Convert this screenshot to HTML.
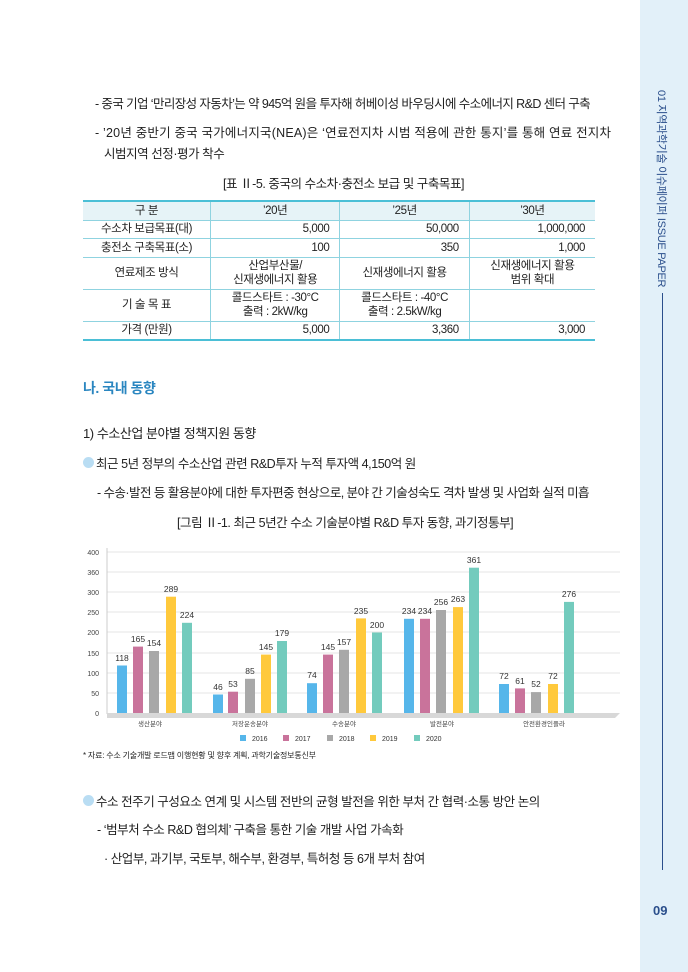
<!DOCTYPE html>
<html><head><meta charset="utf-8"><style>
body{margin:0;width:688px;height:972px;background:#fff;position:relative;overflow:hidden;font-family:"Liberation Sans","Noto Sans CJK KR",sans-serif;color:#222}
.t{position:absolute;white-space:nowrap;font-size:12.5px;letter-spacing:-0.45px}
.side{position:absolute;left:640px;top:0;width:48px;height:972px;background:#e2f0f9}
table{position:absolute;left:83px;top:200px;width:512px;border-collapse:collapse;font-size:11.5px;letter-spacing:-0.4px}
td{border:1px solid #8fd3e0;border-top:1px solid #8fd3e0;padding:0 10px;line-height:14.5px;text-align:center;height:17.5px}
tr:first-child td{background:#e6f3f7;border-top:2px solid #4bbfd6}
tr:last-child td{border-bottom:2px solid #4bbfd6}
td:first-child{border-left:none}td:last-child{border-right:none}
td.r{text-align:right}
</style></head><body>
<div class="side"></div>
<div style="position:absolute;left:662px;top:90px;transform-origin:0 0;transform:translate(8px,0) rotate(90deg);font-size:11px;color:#2b4f8c;white-space:nowrap;letter-spacing:-0.3px">01 지역과학기술 이슈페이퍼 ISSUE PAPER</div>
<div style="position:absolute;left:662px;top:293px;width:1px;height:577px;background:#2b4f8c"></div>
<div style="position:absolute;left:653px;top:903px;font-size:13px;font-weight:bold;color:#2b4f8c">09</div>

<div class="t" style="left:95px;top:93px;letter-spacing:-0.6px">- 중국 기업 ‘만리장성 자동차’는 약 945억 원을 투자해 허베이성 바우딩시에 수소에너지 R&amp;D 센터 구축</div>
<div class="t" style="left:95px;top:122px;letter-spacing:0.2px">- ’20년 중반기 중국 국가에너지국(NEA)은 ‘연료전지차 시범 적용에 관한 통지’를 통해 연료 전지차</div>
<div class="t" style="left:104px;top:143px">시범지역 선정·평가 착수</div>
<div class="t" style="left:223px;top:173px">[표 Ⅱ-5. 중국의 수소차·충전소 보급 및 구축목표]</div>

<table>
<tr><td style="width:107px">구 분</td><td>’20년</td><td>’25년</td><td>’30년</td></tr>
<tr><td>수소차 보급목표(대)</td><td class="r">5,000</td><td class="r">50,000</td><td class="r">1,000,000</td></tr>
<tr><td>충전소 구축목표(소)</td><td class="r">100</td><td class="r">350</td><td class="r">1,000</td></tr>
<tr><td style="height:31px">연료제조 방식</td><td>산업부산물/<br>신재생에너지 활용</td><td>신재생에너지 활용</td><td>신재생에너지 활용<br>범위 확대</td></tr>
<tr><td style="height:31px">기 술 목 표</td><td>콜드스타트 : -30°C<br>출력 : 2kW/kg</td><td>콜드스타트 : -40°C<br>출력 : 2.5kW/kg</td><td></td></tr>
<tr><td>가격 (만원)</td><td class="r">5,000</td><td class="r">3,360</td><td class="r">3,000</td></tr>
</table>

<div class="t" style="left:83px;top:378px;font-size:14px;font-weight:bold;color:#2a86c0">나. 국내 동향</div>
<div class="t" style="left:83px;top:423px;font-size:13px">1) 수소산업 분야별 정책지원 동향</div>
<div style="position:absolute;left:83px;top:457px;width:11px;height:11px;border-radius:50%;background:#b9ddf3"></div>
<div class="t" style="left:96px;top:453px">최근 5년 정부의 수소산업 관련 R&amp;D투자 누적 투자액 4,150억 원</div>
<div class="t" style="left:97px;top:482px;letter-spacing:-0.55px">- 수송·발전 등 활용분야에 대한 투자편중 현상으로, 분야 간 기술성숙도 격차 발생 및 사업화 실적 미흡</div>
<div class="t" style="left:177px;top:512px">[그림 Ⅱ-1. 최근 5년간 수소 기술분야별 R&amp;D 투자 동향, 과기정통부]</div>

<svg style="position:absolute;left:0;top:0" width="688" height="972" font-family="Liberation Sans, sans-serif">
<g stroke="#e4e4e4" stroke-width="1">
<line x1="107" y1="552" x2="620" y2="552"/><line x1="107" y1="572" x2="620" y2="572"/><line x1="107" y1="592" x2="620" y2="592"/><line x1="107" y1="612" x2="620" y2="612"/><line x1="107" y1="632" x2="620" y2="632"/><line x1="107" y1="653" x2="620" y2="653"/><line x1="107" y1="673" x2="620" y2="673"/><line x1="107" y1="693" x2="620" y2="693"/>
</g>
<line x1="107" y1="548" x2="107" y2="714" stroke="#ccc"/>
<polygon points="107,713 620,713 615,718 107,718" fill="#d8d8d8"/>
<g font-size="7" fill="#444" text-anchor="end">
<text x="99" y="555">400</text><text x="99" y="575">360</text><text x="99" y="595">300</text><text x="99" y="615">250</text><text x="99" y="635">200</text><text x="99" y="656">150</text><text x="99" y="676">100</text><text x="99" y="696">50</text><text x="99" y="716">0</text>
</g>
<g>
<rect x="117" y="665.5" width="10" height="47.5" fill="#56b6ea"/><rect x="133" y="646.6" width="10" height="66.4" fill="#c9739b"/><rect x="149" y="651" width="10" height="62" fill="#a8a8a8"/><rect x="166" y="596.7" width="10" height="116.3" fill="#ffc93c"/><rect x="182" y="622.8" width="10" height="90.2" fill="#73cbbd"/>
<rect x="213" y="694.5" width="10" height="18.5" fill="#56b6ea"/><rect x="228" y="691.7" width="10" height="21.3" fill="#c9739b"/><rect x="245" y="678.8" width="10" height="34.2" fill="#a8a8a8"/><rect x="261" y="654.6" width="10" height="58.4" fill="#ffc93c"/><rect x="277" y="641" width="10" height="72" fill="#73cbbd"/>
<rect x="307" y="683.2" width="10" height="29.8" fill="#56b6ea"/><rect x="323" y="654.6" width="10" height="58.4" fill="#c9739b"/><rect x="339" y="649.8" width="10" height="63.2" fill="#a8a8a8"/><rect x="356" y="618.4" width="10" height="94.6" fill="#ffc93c"/><rect x="372" y="632.5" width="10" height="80.5" fill="#73cbbd"/>
<rect x="404" y="618.8" width="10" height="94.2" fill="#56b6ea"/><rect x="420" y="618.8" width="10" height="94.2" fill="#c9739b"/><rect x="436" y="610" width="10" height="103" fill="#a8a8a8"/><rect x="453" y="607.1" width="10" height="105.9" fill="#ffc93c"/><rect x="469" y="567.7" width="10" height="145.3" fill="#73cbbd"/>
<rect x="499" y="684" width="10" height="29" fill="#56b6ea"/><rect x="515" y="688.4" width="10" height="24.6" fill="#c9739b"/><rect x="531" y="692.1" width="10" height="20.9" fill="#a8a8a8"/><rect x="548" y="684" width="10" height="29" fill="#ffc93c"/><rect x="564" y="601.9" width="10" height="111.1" fill="#73cbbd"/>
</g>
<g font-size="8.5" fill="#333" text-anchor="middle">
<text x="122" y="661">118</text><text x="138" y="642">165</text><text x="154" y="646">154</text><text x="171" y="592">289</text><text x="187" y="618">224</text>
<text x="218" y="690">46</text><text x="233" y="687">53</text><text x="250" y="674">85</text><text x="266" y="650">145</text><text x="282" y="636">179</text>
<text x="312" y="678">74</text><text x="328" y="650">145</text><text x="344" y="645">157</text><text x="361" y="614">235</text><text x="377" y="628">200</text>
<text x="409" y="614">234</text><text x="425" y="614">234</text><text x="441" y="605">256</text><text x="458" y="602">263</text><text x="474" y="563">361</text>
<text x="504" y="679">72</text><text x="520" y="684">61</text><text x="536" y="687">52</text><text x="553" y="679">72</text><text x="569" y="597">276</text>
</g>
<g font-size="6.5" fill="#444" text-anchor="middle" font-family="Noto Sans CJK KR, sans-serif">
<text x="150" y="726">생산분야</text><text x="250" y="726">저장운송분야</text><text x="344" y="726">수송분야</text><text x="442" y="726">발전분야</text><text x="544" y="726">안전환경인플라</text>
</g>
<g font-size="7" fill="#333">
<rect x="240" y="735" width="6" height="6" fill="#56b6ea"/><text x="252" y="741">2016</text>
<rect x="283" y="735" width="6" height="6" fill="#c9739b"/><text x="295" y="741">2017</text>
<rect x="327" y="735" width="6" height="6" fill="#a8a8a8"/><text x="339" y="741">2018</text>
<rect x="370" y="735" width="6" height="6" fill="#ffc93c"/><text x="382" y="741">2019</text>
<rect x="414" y="735" width="6" height="6" fill="#73cbbd"/><text x="426" y="741">2020</text>
</g>
</svg>
<div class="t" style="left:83px;top:750px;font-size:8px;letter-spacing:-0.2px">* 자료: 수소 기술개발 로드맵 이행현황 및 향후 계획, 과학기술정보통신부</div>

<div style="position:absolute;left:83px;top:795px;width:11px;height:11px;border-radius:50%;background:#b9ddf3"></div>
<div class="t" style="left:96px;top:791px">수소 전주기 구성요소 연계 및 시스템 전반의 균형 발전을 위한 부처 간 협력·소통 방안 논의</div>
<div class="t" style="left:97px;top:819px">- ‘범부처 수소 R&amp;D 협의체’ 구축을 통한 기술 개발 사업 가속화</div>
<div class="t" style="left:104px;top:848px">· 산업부, 과기부, 국토부, 해수부, 환경부, 특허청 등 6개 부처 참여</div>
</body></html>
